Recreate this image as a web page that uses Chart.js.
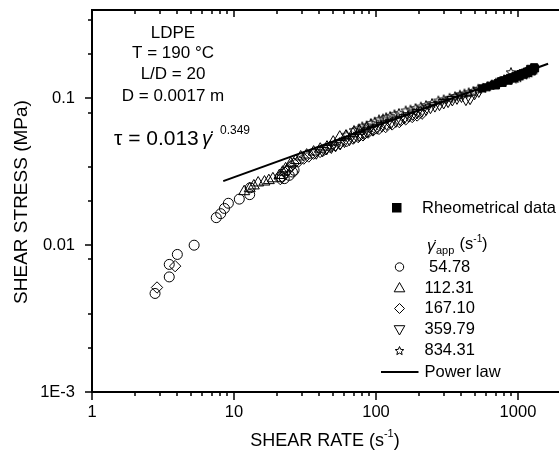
<!DOCTYPE html>
<html><head><meta charset="utf-8">
<script src="https://cdn.jsdelivr.net/npm/chart.js@4/dist/chart.umd.min.js"></script>
<style>html,body{margin:0;padding:0;background:#fff;overflow:hidden;width:559px;height:461px}</style>
</head><body>
<canvas id="c" width="568" height="461" style="display:block;width:568px;height:461px"></canvas>
<script>
// ---- data ----
const xTickValues = [1, 10, 100, 1000];
const yTickValues = [0.001, 0.01, 0.1];
const xMinorFactors = [2, 3, 4, 5, 6, 7, 8, 9];
const yMinorFactors = [2, 3.4, 8];
const seriesLabels = ['54.78', '112.31', '167.10', '359.79', '834.31'];

const rheoData = [[560,0.117],[600,0.119],[640,0.122],[680,0.1245],[720,0.127],[760,0.131],[800,0.133],[840,0.1355],[880,0.138],[920,0.1395],[960,0.1425],[1000,0.144],[1040,0.1465],[1080,0.1485],[1120,0.150],[1160,0.1525],[1200,0.154],[1240,0.156],[1280,0.158],[1320,0.160],[700,0.1225],[780,0.1275],[860,0.132],[940,0.137],[1020,0.141],[1100,0.145],[1180,0.149],[1260,0.153],[1220,0.159],[1300,0.163]];
const s54 = [[2.78,0.00469],[3.5,0.00608],[3.5,0.0074],[3.99,0.00865],[5.24,0.0100],[7.5,0.0154],[8.06,0.0164],[8.57,0.0178],[9.13,0.0193],[10.9,0.0206],[12.9,0.0221],[13.0,0.0246],[21.2,0.0292],[22.6,0.0284],[24.5,0.0299],[25.8,0.0315],[26.5,0.0324]];
const s112 = [[11.8,0.0232],[12.9,0.0243],[13.8,0.0254],[14.8,0.0266],[16.4,0.027],[17.6,0.0276],[18.8,0.0284],[20.9,0.0299],[22.0,0.0315],[23.1,0.0332],[25.1,0.036],[27.2,0.0378],[29.5,0.040],[32.5,0.0412],[36.4,0.0432],[40.5,0.0452],[45.2,0.0467],[50,0.0505],[55.6,0.0546],[61.5,0.0555],[68.9,0.0575],[76.5,0.0598],[85.6,0.0622]];
const s167 = [[2.87,0.00515],[3.85,0.0072],[21.2,0.0282],[22.0,0.0292],[23.0,0.0310],[23.8,0.0324],[25.0,0.0342],[26.4,0.036],[28.5,0.0372],[31.0,0.0389],[33.6,0.0402],[36.4,0.042],[40.4,0.0432],[43.5,0.0448],[47.5,0.0467],[51.5,0.0478],[55.6,0.0492],[62,0.051],[69,0.0532],[75,0.0545],[81,0.056],[88,0.0585],[95.3,0.0605],[105,0.062],[117,0.0638],[130,0.0665],[146,0.069],[162,0.072],[180,0.0747],[195,0.0765],[211,0.0787]];
const s359 = [[38,0.0425],[42,0.044],[45,0.0455],[48.5,0.0465],[52,0.0478],[56,0.0492],[60,0.051],[65,0.0525],[70,0.0545],[76,0.056],[82,0.058],[88,0.060],[95,0.0615],[102,0.063],[110,0.065],[119,0.0668],[128,0.0685],[138,0.070],[148,0.072],[159,0.074],[170,0.076],[182,0.078],[195,0.080],[210,0.082],[225,0.0845],[242,0.0868],[260,0.089],[280,0.091],[300,0.0935],[322,0.0955],[345,0.098],[372,0.1005],[400,0.1035],[430,0.0985],[460,0.100],[495,0.108],[530,0.112]];
const s834 = [[62,0.0565],[70,0.061],[76,0.0625],[80,0.0645],[86,0.0655],[92,0.068],[98,0.0695],[105,0.072],[112,0.073],[118,0.0745],[126,0.076],[135,0.078],[145,0.0795],[162,0.0828],[175,0.084],[190,0.086],[207,0.088],[225,0.090],[248,0.093],[275,0.0968],[300,0.0985],[330,0.101],[360,0.1035],[390,0.106],[420,0.108],[450,0.110],[485,0.1125],[525,0.1164],[565,0.118],[610,0.121],[655,0.1245],[700,0.128],[750,0.1315],[800,0.135],[850,0.1345],[893,0.151],[930,0.1365],[960,0.138],[1000,0.1395],[1045,0.1436],[1100,0.1455],[1150,0.148],[1200,0.1505],[1250,0.155],[1300,0.1575]];
const powerLaw = [[8.4,0.0273],[1630,0.172]];

// ---- rendering ----
const FONT = "'Liberation Sans', Arial, sans-serif";
const pts = a => a.map(p => ({x: p[0], y: p[1]}));

function makeStar(size) {
  const c = document.createElement('canvas');
  c.width = size; c.height = size;
  const g = c.getContext('2d');
  const cx = size / 2, cy = size / 2 + 0.5, R = size / 2 - 1, r = R * 0.45;
  g.beginPath();
  for (let i = 0; i < 10; i++) {
    const a = -Math.PI / 2 + i * Math.PI / 5;
    const rr = i % 2 ? r : R;
    const px = cx + Math.cos(a) * rr, py = cy + Math.sin(a) * rr;
    i ? g.lineTo(px, py) : g.moveTo(px, py);
  }
  g.closePath();
  g.lineWidth = 1; g.strokeStyle = '#000'; g.stroke();
  return c;
}
const starImg = makeStar(12);
const starLegend = makeStar(11);

const common = {showLine: false, borderColor: '#000', backgroundColor: 'rgba(0,0,0,0)', pointBorderWidth: 1};
const datasets = [
  {label: 'Rheometrical data', data: pts(rheoData), ...common, pointStyle: 'rect', pointRadius: 5, backgroundColor: '#000', pointBackgroundColor: '#000'},
  {label: seriesLabels[0], data: pts(s54), ...common, pointStyle: 'circle', pointRadius: 5},
  {label: seriesLabels[1], data: pts(s112), ...common, pointStyle: 'triangle', pointRadius: 6.3},
  {label: seriesLabels[2], data: pts(s167), ...common, pointStyle: 'rectRot', pointRadius: 5.7},
  {label: seriesLabels[3], data: pts(s359), ...common, pointStyle: 'triangle', pointRotation: 180, pointRadius: 6.3},
  {label: seriesLabels[4], data: pts(s834), ...common, pointStyle: starImg, pointRadius: 6},
  {label: 'Power law', data: pts(powerLaw), showLine: true, borderColor: '#000', borderWidth: 2, pointRadius: 0, fill: false}
];

function richText(ctx, segs, x, y) {
  let cx = x;
  for (const s of segs) {
    ctx.font = (s.italic ? 'italic ' : '') + s.size + 'px ' + FONT;
    if (s.x !== undefined) cx = s.x;
    ctx.fillText(s.t, cx, y + (s.dy || 0));
    cx += ctx.measureText(s.t).width;
  }
}

const deco = {
  id: 'deco',
  afterDraw(chart) {
    const ctx = chart.ctx, xs = chart.scales.x, ys = chart.scales.y, a = chart.chartArea;
    ctx.save();
    ctx.strokeStyle = '#000'; ctx.fillStyle = '#000';
    ctx.lineWidth = 2;
    ctx.beginPath();
    ctx.moveTo(a.left, a.top); ctx.lineTo(a.left, a.bottom);
    ctx.moveTo(a.left - 1, a.bottom); ctx.lineTo(a.right, a.bottom);
    ctx.moveTo(a.left - 1, a.top); ctx.lineTo(a.right, a.top);
    ctx.stroke();
    ctx.lineWidth = 1.5;
    ctx.beginPath();
    for (let d = 1; d <= 1000; d *= 10) {
      const px = Math.round(xs.getPixelForValue(d));
      ctx.moveTo(px, a.bottom); ctx.lineTo(px, a.bottom + 8);
      ctx.moveTo(px, a.top); ctx.lineTo(px, a.top + 7);
      for (const f of xMinorFactors) {
        const v = d * f; if (v > xs.max) continue;
        const mx = Math.round(xs.getPixelForValue(v));
        ctx.moveTo(mx, a.bottom); ctx.lineTo(mx, a.bottom + 4);
        ctx.moveTo(mx, a.top); ctx.lineTo(mx, a.top + 4);
      }
    }
    for (let d = 0.001; d < 0.5; d *= 10) {
      const py = Math.round(ys.getPixelForValue(d));
      ctx.moveTo(a.left, py); ctx.lineTo(a.left - 7, py);
      for (const f of yMinorFactors) {
        const v = d * f; if (v > ys.max) continue;
        const my = Math.round(ys.getPixelForValue(v));
        ctx.moveTo(a.left, my); ctx.lineTo(a.left - 4, my);
      }
    }
    ctx.stroke();

    // axis titles
    ctx.textBaseline = 'middle'; ctx.textAlign = 'left';
    ctx.font = '18px ' + FONT;
    const t1 = 'SHEAR RATE (s', t2 = '-1', t3 = ')';
    const w1 = ctx.measureText(t1).width; ctx.font = '11px ' + FONT;
    const w2 = ctx.measureText(t2).width; ctx.font = '18px ' + FONT;
    const w3 = ctx.measureText(t3).width;
    const sx = 325 - (w1 + w2 + w3) / 2;
    richText(ctx, [{t: t1, size: 18}, {t: t2, size: 11, dy: -7}, {t: t3, size: 18}], sx, 441);
    ctx.save();
    ctx.translate(22, 202); ctx.rotate(-Math.PI / 2);
    ctx.textAlign = 'center'; ctx.font = '19px ' + FONT;
    ctx.fillText('SHEAR STRESS (MPa)', 0, 0);
    ctx.restore();

    // annotation
    ctx.textAlign = 'center'; ctx.font = '17px ' + FONT;
    ctx.fillText('LDPE', 173, 33);
    ctx.fillText('T = 190 °C', 173, 53);
    ctx.fillText('L/D = 20', 173, 74);
    ctx.fillText('D = 0.0017 m', 173, 96);
    ctx.textAlign = 'left'; ctx.textBaseline = 'alphabetic';
    richText(ctx, [{t: 'τ = 0.013', size: 21, x: 114}, {t: 'γ\u0307', size: 20, italic: true, x: 202}, {t: '0.349', size: 12, x: 220, dy: -11}], 114, 145);

    // legend
    ctx.textBaseline = 'middle'; ctx.font = '16.5px ' + FONT;
    ctx.fillRect(392, 203, 9.5, 9.5);
    ctx.fillText('Rheometrical data', 422, 208);
    richText(ctx, [{t: 'γ\u0307', size: 16.5, italic: true, x: 427, dy: 2}, {t: 'app', size: 11, x: 436, dy: 7}, {t: ' (s', size: 16.5, x: 455}, {t: '-1', size: 10, dy: -5}, {t: ')', size: 16.5, x: 482}], 427, 244);
    const rows = [267, 288, 308.5, 329.5, 350.5];
    const sx0 = 399.5;
    ctx.lineWidth = 1;
    ctx.beginPath(); ctx.arc(sx0, rows[0], 4.2, 0, Math.PI * 2); ctx.stroke();
    ctx.beginPath(); ctx.moveTo(sx0, rows[1] - 5.5); ctx.lineTo(sx0 + 5.3, rows[1] + 3.8); ctx.lineTo(sx0 - 5.3, rows[1] + 3.8); ctx.closePath(); ctx.stroke();
    ctx.beginPath(); ctx.moveTo(sx0, rows[2] - 5); ctx.lineTo(sx0 + 5, rows[2]); ctx.lineTo(sx0, rows[2] + 5); ctx.lineTo(sx0 - 5, rows[2]); ctx.closePath(); ctx.stroke();
    ctx.beginPath(); ctx.moveTo(sx0, rows[3] + 5.5); ctx.lineTo(sx0 + 5.3, rows[3] - 3.8); ctx.lineTo(sx0 - 5.3, rows[3] - 3.8); ctx.closePath(); ctx.stroke();
    ctx.drawImage(starLegend, sx0 - 5.5, rows[4] - 5.5);
    ctx.font = '16.5px ' + FONT;
    ctx.fillText(seriesLabels[0], 429, rows[0]);
    for (let i = 1; i < 5; i++) ctx.fillText(seriesLabels[i], 424.5, rows[i]);
    ctx.lineWidth = 2;
    ctx.beginPath(); ctx.moveTo(381, 372); ctx.lineTo(418.5, 372); ctx.stroke();
    ctx.fillText('Power law', 424.5, 372);
    ctx.restore();
  }
};

new Chart(document.getElementById('c'), {
  type: 'scatter',
  data: {datasets},
  options: {
    responsive: false, animation: false, devicePixelRatio: 1,
    layout: {padding: {top: 10, right: 0, left: 0, bottom: 0}},
    plugins: {legend: {display: false}, tooltip: {enabled: false}},
    scales: {
      x: {
        type: 'logarithmic', min: 1, max: 2000,
        afterBuildTicks: s => { s.ticks = xTickValues.map(v => ({value: v})); },
        afterFit: s => { s.height = 69; s.paddingLeft = 0; s.paddingRight = 0; },
        ticks: {callback: v => String(v), font: {size: 16.5, family: FONT}, color: '#000', padding: 3, maxRotation: 0, autoSkip: false},
        grid: {display: false}, border: {display: false}
      },
      y: {
        type: 'logarithmic', min: 0.001, max: 0.4,
        afterBuildTicks: s => { s.ticks = yTickValues.map(v => ({value: v})); },
        afterFit: s => { s.width = 92; s.paddingTop = 0; s.paddingBottom = 0; },
        ticks: {callback: v => (v < 0.005 ? '1E-3' : String(v)), font: {size: 16.5, family: FONT}, color: '#000', padding: 9, autoSkip: false},
        grid: {display: false}, border: {display: false}
      }
    }
  },
  plugins: [deco]
});
</script>
</body></html>
